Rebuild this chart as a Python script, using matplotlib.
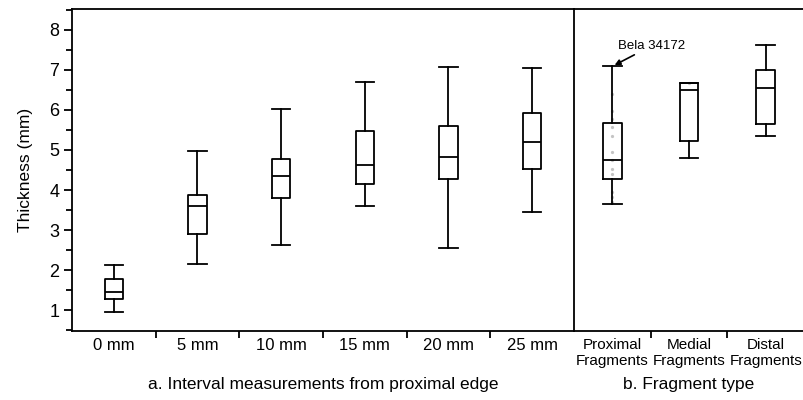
import matplotlib
matplotlib.use("Agg")
from matplotlib import pyplot as plt
from matplotlib.ticker import MultipleLocator

plt.rcParams['font.family'] = ['Liberation Sans', 'DejaVu Sans']

interval_labels = ['0 mm', '5 mm', '10 mm', '15 mm', '20 mm', '25 mm']
interval_low = [0.95, 2.15, 2.63, 3.60, 2.55, 3.45]
interval_q1 = [1.27, 2.90, 3.80, 4.15, 4.27, 4.53]
interval_med = [1.45, 3.60, 4.35, 4.62, 4.82, 5.20]
interval_q3 = [1.77, 3.88, 4.78, 5.48, 5.60, 5.92]
interval_high = [2.12, 4.97, 6.03, 6.70, 7.08, 7.05]

# fragment types
frag_labels = ['Proximal\nFragments', 'Medial\nFragments', 'Distal\nFragments']
frag_low = [3.64, 4.81, 5.34]
frag_q1 = [4.28, 5.22, 5.64]
frag_med = [4.74, 6.50, 6.55]
frag_q3 = [5.67, 6.68, 7.00]
frag_high = [7.10, 6.68, 7.63]

# faint individual points on proximal fragments
prox_points = [6.40, 5.98, 5.78, 5.57, 5.36, 4.94, 4.74, 4.53, 4.41, 3.95, 3.82, 3.70]
medial_points = [6.68]


def stats(lo, q1, med, q3, hi):
    out = []
    for a, b, c, d, e in zip(lo, q1, med, q3, hi):
        out.append({'whislo': a, 'q1': b, 'med': c, 'q3': d, 'whishi': e, 'fliers': []})
    return out


fig = plt.figure(figsize=(8.04, 4.0), dpi=100)
left = 72 / 804
bottom = (400 - 331) / 400
height = (331 - 9) / 400
w1 = 502 / 804
w2 = 232 / 804
ax1 = fig.add_axes([left, bottom, w1, height])
ax2 = fig.add_axes([left + w1, bottom, w2, height], sharey=ax1)

lw = 1.3
props = dict(boxprops=dict(color='black', linewidth=lw),
             medianprops=dict(color='black', linewidth=lw),
             whiskerprops=dict(color='black', linewidth=lw),
             capprops=dict(color='black', linewidth=lw))

pos1 = [i + 0.5 for i in range(len(interval_labels))]
ax1.bxp(stats(interval_low, interval_q1, interval_med, interval_q3, interval_high),
        positions=pos1, widths=0.22, capwidths=0.22, showfliers=False, **props)
pos2 = [i + 0.5 for i in range(len(frag_labels))]
ax2.plot([pos2[0]] * len(prox_points), prox_points, ls='none', marker='o',
         ms=1.3, color='#c4c4c4', zorder=1)
ax2.plot([pos2[1]] * len(medial_points), medial_points, ls='none', marker='o',
         ms=1.3, color='#c4c4c4', zorder=1)
ax2.bxp(stats(frag_low, frag_q1, frag_med, frag_q3, frag_high),
        positions=pos2, widths=0.245, capwidths=0.245, showfliers=False, **props)

ax1.set_xlim(0, len(interval_labels))
ax2.set_xlim(0, len(frag_labels) * 232 / 230)
ax1.set_ylim(0.48, 8.52)

for ax, n, labels, fs in [(ax1, len(interval_labels), interval_labels, 12),
                          (ax2, len(frag_labels), frag_labels, 11)]:
    ax.set_xticks([i + 0.5 for i in range(n)])
    ax.set_xticklabels(labels, fontsize=fs)
    ax.set_xticks(list(range(1, n)), minor=True)
    ax.tick_params(axis='x', which='major', length=0, pad=5)
    ax.tick_params(axis='x', which='minor', length=5, width=1.3, direction='out')
    for s in ax.spines.values():
        s.set_linewidth(1.3)

ax1.spines['right'].set_visible(False)
ax2.spines['right'].set_visible(False)
ax2.tick_params(axis='y', which='both', left=False, labelleft=False)

ax1.yaxis.set_major_locator(MultipleLocator(1))
ax1.yaxis.set_minor_locator(MultipleLocator(0.5))
ax1.tick_params(axis='y', which='major', length=6, width=1.3, labelsize=13, pad=3)
ax1.tick_params(axis='y', which='minor', length=4, width=1.3)
ax1.set_ylabel('Thickness (mm)', fontsize=12.5, labelpad=12)

fig.text((72 + 574) / 2 / 804, 15 / 400, 'a. Interval measurements from proximal edge',
         fontsize=12.5, ha='center', va='center')
fig.text((574 + 804) / 2 / 804, 15 / 400, 'b. Fragment type',
         fontsize=12.5, ha='center', va='center')

ax2.annotate('Bela 34172', xy=(pos2[0] + 0.03, frag_high[0] + 0.02),
             xytext=(pos2[0] + 0.07, 7.52), fontsize=9.5,
             arrowprops=dict(arrowstyle='-|>', color='black', lw=1.2,
                             mutation_scale=8, shrinkA=0, shrinkB=0))

fig.savefig('out.png', dpi=100)
